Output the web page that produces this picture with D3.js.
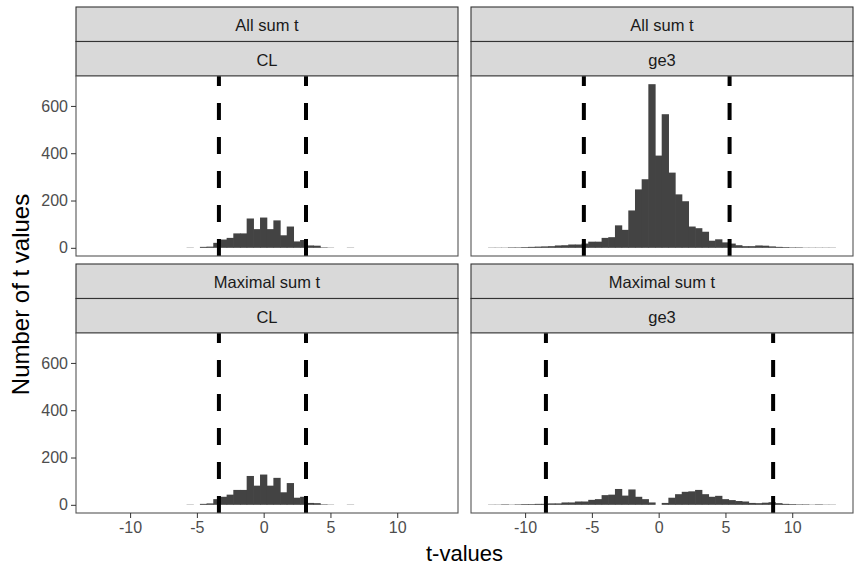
<!DOCTYPE html>
<html>
<head>
<meta charset="utf-8">
<script src="https://cdn.jsdelivr.net/npm/d3@7.9.0/dist/d3.min.js"></script>
<style>
  body { margin: 0; background: #fff; }
  svg text { font-family: "Liberation Sans", Arial, sans-serif; }
</style>
</head>
<body>
<svg id="chart" width="854" height="569"></svg>
<script>
// bin centres (binwidth 0.5)
const binCenters = [
  -12.5, -12, -11.5, -11, -10.5, -10, -9.5, -9, -8.5, -8,
  -7.5, -7, -6.5, -6, -5.5, -5, -4.5, -4, -3.5, -3,
  -2.5, -2, -1.5, -1, -0.5, 0, 0.5, 1, 1.5, 2,
  2.5, 3, 3.5, 4, 4.5, 5, 5.5, 6, 6.5, 7,
  7.5, 8, 8.5, 9, 9.5, 10, 10.5, 11, 11.5, 12,
  12.5, 13
];
const binWidth = 0.5;

const allSumCL = [
  0, 0, 0, 0, 0, 0, 0, 0, 0, 0,
  0, 0, 0, 0, 1, 0, 4, 5, 21, 35,
  42, 61, 61, 124, 79, 128, 79, 116, 53, 90,
  27, 33, 10, 9, 2, 1, 0, 0, 1, 0,
  0, 0, 0, 0, 0, 0, 0, 0, 0, 0,
  0, 0
];
const allSumGe3 = [
  1, 1, 1, 2, 2, 3, 4, 5, 6, 7,
  10, 11, 14, 14, 18, 26, 26, 42, 45, 95,
  76, 158, 247, 290, 692, 390, 565, 318, 226, 197,
  90, 83, 68, 30, 36, 23, 18, 11, 7, 7,
  10, 9, 6, 4, 3, 2, 2, 1, 1, 1,
  1, 1
];
const maxSumCL = [
  0, 0, 0, 0, 0, 0, 0, 0, 0, 0,
  0, 0, 0, 0, 1, 0, 4, 6, 24, 34,
  43, 63, 63, 122, 81, 128, 81, 114, 53, 92,
  30, 34, 8, 7, 2, 1, 0, 0, 1, 0,
  0, 0, 0, 0, 0, 0, 0, 0, 0, 0,
  0, 0
];
const maxSumGe3 = [
  1, 1, 2, 1, 2, 3, 3, 4, 4, 6,
  6, 10, 10, 14, 14, 21, 24, 41, 43, 67,
  39, 65, 34, 24, 10, 0, 8, 30, 45, 55,
  57, 63, 45, 34, 38, 24, 20, 16, 14, 8,
  7, 9, 11, 7, 4, 3, 2, 2, 1, 2,
  1, 1
];

// thresholds (dashed lines)
const cutAllCL = [-3.35, 3.17];
const cutAllGe3 = [-5.6, 5.31];
const cutMaxCL = [-3.35, 3.17];
const cutMaxGe3 = [-8.44, 8.57];

const rowLabels = ['All sum t', 'Maximal sum t'];
const colLabels = ['CL', 'ge3'];
const xTicks = [-10, -5, 0, 5, 10];
const yTicks = [0, 200, 400, 600];

const panels = [
  { row: 0, col: 0, counts: allSumCL, cut: cutAllCL },
  { row: 0, col: 1, counts: allSumGe3, cut: cutAllGe3 },
  { row: 1, col: 0, counts: maxSumCL, cut: cutMaxCL },
  { row: 1, col: 1, counts: maxSumGe3, cut: cutMaxGe3 }
];

// layout
const colX = [76, 471];
const panelW = 382;
const rowY = [7, 264];
const stripH = 34.5;
const panelH = 180;

const svg = d3.select('#chart');

// shared scales, ggplot style 5% expansion
let xmin = d3.min(binCenters) - binWidth / 2;
let xmax = d3.max(binCenters) + binWidth / 2;
let xpad = (xmax - xmin) * 0.05;
let ymax = d3.max([allSumCL, allSumGe3, maxSumCL, maxSumGe3].flat());
let ypad = ymax * 0.05;

panels.forEach((p, idx) => {
  let left = colX[p.col];
  let stripTop = rowY[p.row];
  let top = stripTop + stripH * 2;

  let x = d3.scaleLinear().domain([xmin - xpad, xmax + xpad]).range([left, left + panelW]);
  let y = d3.scaleLinear().domain([-ypad, ymax + ypad]).range([top + panelH, top]);

  // strips
  [rowLabels[p.row], colLabels[p.col]].forEach((lab, k) => {
    let sy = stripTop + k * stripH;
    svg.append('rect')
      .attr('x', left).attr('y', sy)
      .attr('width', panelW).attr('height', stripH)
      .attr('fill', '#d9d9d9').attr('stroke', '#333').attr('stroke-width', 1.1);
    svg.append('text')
      .attr('x', left + panelW / 2).attr('y', sy + stripH / 2 + 1)
      .attr('text-anchor', 'middle').attr('dominant-baseline', 'central')
      .attr('font-size', 16.5).attr('fill', '#1a1a1a')
      .text(lab);
  });

  // panel
  svg.append('clipPath').attr('id', 'clip' + idx)
    .append('rect').attr('x', left).attr('y', top).attr('width', panelW).attr('height', panelH);

  let g = svg.append('g').attr('clip-path', `url(#clip${idx})`);

  g.append('rect')
    .attr('x', left).attr('y', top).attr('width', panelW).attr('height', panelH)
    .attr('fill', '#fff');

  // bars overlap a hair so no seams show between neighbours
  g.selectAll('rect.bar')
    .data(binCenters.map((c, i) => ({ c: c, n: p.counts[i] })).filter(d => d.n > 0))
    .join('rect')
    .attr('class', 'bar')
    .attr('x', d => x(d.c - binWidth / 2) - 0.3)
    .attr('width', d => x(d.c + binWidth / 2) - x(d.c - binWidth / 2) + 0.6)
    .attr('y', d => y(d.n))
    .attr('height', d => y(0) - y(d.n))
    .attr('fill', '#434343');

  g.selectAll('line.cut')
    .data(p.cut)
    .join('line')
    .attr('class', 'cut')
    .attr('x1', d => x(d)).attr('x2', d => x(d))
    .attr('y1', top + panelH).attr('y2', top)
    .attr('stroke', '#000').attr('stroke-width', 4)
    .attr('stroke-dasharray', '17 17');

  svg.append('rect')
    .attr('x', left).attr('y', top).attr('width', panelW).attr('height', panelH)
    .attr('fill', 'none').attr('stroke', '#555').attr('stroke-width', 1.1);

  // axes
  if (p.col === 0) {
    let ay = svg.append('g')
      .attr('transform', `translate(${left},0)`)
      .call(d3.axisLeft(y).tickValues(yTicks).tickSize(5).tickPadding(3).tickFormat(d => String(d)));
    ay.select('.domain').remove();
    ay.selectAll('line').attr('stroke', '#333');
    ay.selectAll('text').attr('font-size', 16).attr('fill', '#4d4d4d')
      .style('font-family', '"Liberation Sans", Arial, sans-serif');
  }
  if (p.row === 1) {
    let ax = svg.append('g')
      .attr('transform', `translate(0,${top + panelH})`)
      .call(d3.axisBottom(x).tickValues(xTicks).tickSize(5).tickPadding(4).tickFormat(d => String(d)));
    ax.select('.domain').remove();
    ax.selectAll('line').attr('stroke', '#333');
    ax.selectAll('text').attr('font-size', 16).attr('fill', '#4d4d4d')
      .style('font-family', '"Liberation Sans", Arial, sans-serif');
  }
});

// axis titles
let plotTop = rowY[0] + stripH * 2;
let plotBottom = rowY[1] + stripH * 2 + panelH;
svg.append('text')
  .attr('transform', `translate(29,${(plotTop + plotBottom) / 2}) rotate(-90)`)
  .attr('text-anchor', 'middle')
  .attr('font-size', 24).attr('fill', '#000')
  .text('Number of t values');

svg.append('text')
  .attr('x', (colX[0] + colX[1] + panelW) / 2)
  .attr('y', 561)
  .attr('text-anchor', 'middle')
  .attr('font-size', 22).attr('fill', '#000')
  .text('t-values');
</script>
</body>
</html>
